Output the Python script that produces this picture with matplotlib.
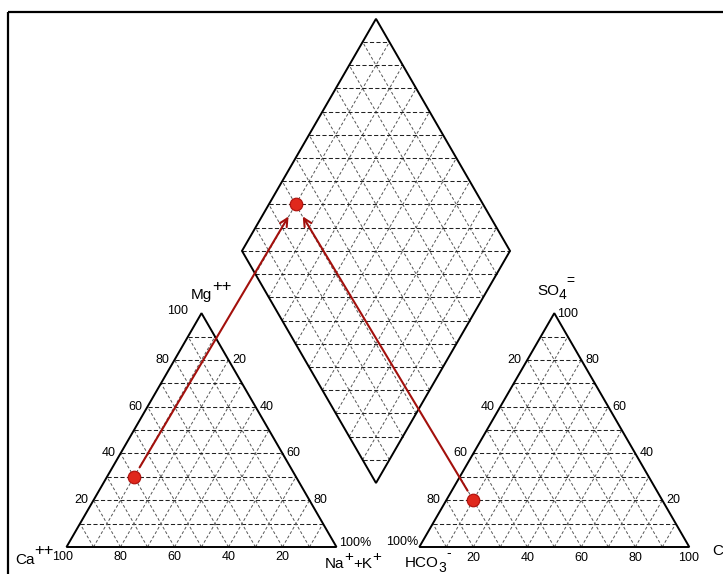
import matplotlib

matplotlib.use("Agg")
import matplotlib.pyplot as plt
from matplotlib.patches import Polygon, Rectangle

plt.rcParams["font.family"] = ["Liberation Sans", "DejaVu Sans"]

# sample composition (% meq)
ca, mg, nak = 60, 30, 10
hco3, so4, cl = 70, 20, 10

edge_ticks = [20, 40, 60, 80]

# axis names as (text, raise in px, font size) pieces
name_ca = [("Ca", 0, 11), ("++", 9.5, 12)]
name_mg = [("Mg", 0, 11), ("++", 8, 12)]
name_nak = [("Na", 0, 11), ("+", 7.5, 11), ("+K", 0, 11), ("+", 7.5, 11)]
name_hco3 = [("HCO", 0, 11), ("3", -5, 10), ("-", 10, 10)]
name_so4 = [("SO", 0, 11), ("4", -4, 10), ("=", 10, 10)]
name_cl = [("Cl", 0, 11), ("-", 10, 10)]

# layout in pixel units (y grows downward)
SIDE = 270.0
H = 0.8660254
LEFT_O = (66.5, 547.0)
RIGHT_O = (419.3, 547.0)
DIA_B = (376.0, 483.0)
DIA_S = 268.0

HGRID = dict(color="#222222", lw=0.75, ls=(0, (4, 2.2)), zorder=1)
DGRID = dict(color="#555555", lw=0.7, ls=(0, (3, 2.2)), zorder=1)
RED = "#a3100c"


def tri(origin, right, top):
    x = origin[0] + SIDE * (right + 0.5 * top)
    y = origin[1] - SIDE * H * top
    return x, y


def dia(u, v):
    x = DIA_B[0] + DIA_S * (-0.5 * u + 0.5 * v)
    y = DIA_B[1] - DIA_S * H * (u + v)
    return x, y


def seg(ax, p, q, **kw):
    ax.plot([p[0], q[0]], [p[1], q[1]], **kw)


def draw_triangle(ax, origin):
    corners = [tri(origin, 0, 0), tri(origin, 1, 0), tri(origin, 0, 1)]
    ax.add_patch(Polygon(corners, closed=True, fill=False, ec="black", lw=1.4, zorder=3))
    for k in range(1, 10):
        f = k / 10
        seg(ax, tri(origin, 0, f), tri(origin, 1 - f, f), **HGRID)
        seg(ax, tri(origin, f, 0), tri(origin, f, 1 - f), **DGRID)
        seg(ax, tri(origin, 1 - f, 0), tri(origin, 0, 1 - f), **DGRID)


def rich(ax, x, y, parts, renderer):
    for s, rise, size in parts:
        t = ax.text(x, y - rise, s, fontsize=size, ha="left", va="baseline", zorder=4)
        x += t.get_window_extent(renderer).width


fig = plt.figure(figsize=(7.23, 5.74), dpi=100)
ax = fig.add_axes([0, 0, 1, 1])
ax.set_xlim(0, 723)
ax.set_ylim(574, 0)
ax.axis("off")
renderer = fig.canvas.get_renderer()

ax.add_patch(Rectangle((7.5, 12), 900, 700, fill=False, ec="black", lw=1.6, zorder=5))

draw_triangle(ax, LEFT_O)
draw_triangle(ax, RIGHT_O)

# diamond
ax.add_patch(Polygon([dia(0, 0), dia(1, 0), dia(1, 1), dia(0, 1)], closed=True,
                     fill=False, ec="black", lw=1.4, zorder=3))
for k in range(1, 10):
    f = k / 10
    seg(ax, dia(f, 0), dia(f, 1), **DGRID)
    seg(ax, dia(0, f), dia(1, f), **DGRID)
for k in range(1, 20):
    c = k / 10
    if c <= 1:
        seg(ax, dia(c, 0), dia(0, c), **HGRID)
    else:
        seg(ax, dia(1, c - 1), dia(c - 1, 1), **HGRID)

# tick labels, cation triangle
tk = dict(fontsize=9, color="black", zorder=4)
for t in edge_ticks:
    x, y = tri(LEFT_O, 0, t / 100)
    ax.text(x - 5, y, str(t), ha="right", va="center", **tk)
    x, y = tri(LEFT_O, 1 - t / 100, t / 100)
    ax.text(x + 4, y, str(100 - t), ha="left", va="center", **tk)
    x, y = tri(LEFT_O, 1 - t / 100, 0)
    ax.text(x, y + 10, str(t), ha="center", va="center", **tk)
x, y = tri(LEFT_O, 0, 1)
ax.text(x - 13, y - 2, "100", ha="right", va="center", **tk)
x, y = tri(LEFT_O, 1, 0)
ax.text(x + 3, y - 4, "100%", ha="left", va="center", **tk)
x, y = tri(LEFT_O, 0, 0)
ax.text(x - 4, y + 10, "100", ha="center", va="center", **tk)

# tick labels, anion triangle
for t in edge_ticks:
    x, y = tri(RIGHT_O, 0, t / 100)
    ax.text(x - 6, y, str(100 - t), ha="right", va="center", **tk)
    x, y = tri(RIGHT_O, 1 - t / 100, t / 100)
    ax.text(x + 4, y, str(t), ha="left", va="center", **tk)
    x, y = tri(RIGHT_O, t / 100, 0)
    ax.text(x, y + 11, str(t), ha="center", va="center", **tk)
x, y = tri(RIGHT_O, 0, 1)
ax.text(x + 3, y + 1, "100", ha="left", va="center", **tk)
x, y = tri(RIGHT_O, 0, 0)
ax.text(x - 1, y - 5, "100%", ha="right", va="center", **tk)
x, y = tri(RIGHT_O, 1, 0)
ax.text(x - 1, y + 11, "100", ha="center", va="center", **tk)

# axis names
rich(ax, 15, 564, name_ca, renderer)
rich(ax, 191, 299, name_mg, renderer)
rich(ax, 325, 568, name_nak, renderer)
rich(ax, 405, 567, name_hco3, renderer)
rich(ax, 537, 295, name_so4, renderer)
rich(ax, 712, 555, name_cl, renderer)

# sample points and projections
pc = tri(LEFT_O, nak / 100, mg / 100)
pa = tri(RIGHT_O, cl / 100, so4 / 100)
pd = dia((ca + mg) / 100, (so4 + cl) / 100)
for p in (pc, pa):
    ax.annotate("", xy=pd, xytext=p,
                arrowprops=dict(arrowstyle="->", color=RED, lw=1.5,
                                shrinkA=8, shrinkB=10, mutation_scale=14),
                zorder=6)
for p in (pc, pa, pd):
    ax.plot(p[0], p[1], "o", ms=9, mfc="#e0281c", mec="#b3140f", mew=0.9, zorder=7)

fig.savefig("out.png", dpi=100)
